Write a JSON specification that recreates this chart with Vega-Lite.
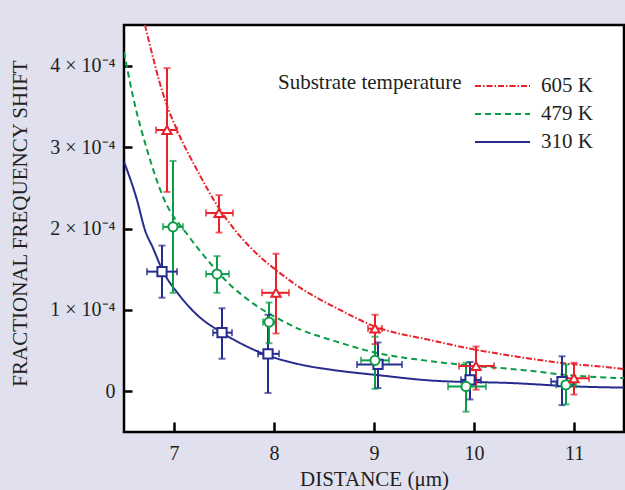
{
  "$schema": "https://vega.github.io/schema/vega-lite/v6.json",
  "width": 500,
  "height": 407,
  "autosize": {"type": "none"},
  "padding": {"left": 124, "top": 25, "right": 1, "bottom": 58},
  "background": "#e1e0ef",
  "config": {
    "view": {"fill": "white", "stroke": "black", "strokeWidth": 2.5},
    "font": "Liberation Serif",
    "axis": {
      "labelFont": "Liberation Serif", "labelFontSize": 20, "labelColor": "#231f20",
      "titleFont": "Liberation Serif", "titleFontSize": 21, "titleFontWeight": "normal", "titleColor": "#231f20",
      "grid": false, "domain": false, "tickColor": "black", "tickWidth": 2.5
    }
  },
  "datasets": {
    "points": [
      {"series": "310 K", "x": 6.88, "y": 1.47, "ylo": 1.15, "yhi": 1.79, "xlo": 6.73, "xhi": 7.03},
      {"series": "310 K", "x": 7.48, "y": 0.72, "ylo": 0.40, "yhi": 1.02, "xlo": 7.39, "xhi": 7.58},
      {"series": "310 K", "x": 7.94, "y": 0.46, "ylo": -0.02, "yhi": 0.94, "xlo": 7.84, "xhi": 8.05},
      {"series": "310 K", "x": 9.04, "y": 0.33, "ylo": 0.04, "yhi": 0.60, "xlo": 8.83, "xhi": 9.28},
      {"series": "310 K", "x": 9.96, "y": 0.14, "ylo": -0.10, "yhi": 0.36, "xlo": 9.87, "xhi": 10.07},
      {"series": "310 K", "x": 10.88, "y": 0.12, "ylo": -0.17, "yhi": 0.43, "xlo": 10.77, "xhi": 10.99},
      {"series": "479 K", "x": 6.99, "y": 2.02, "ylo": 1.21, "yhi": 2.83, "xlo": 6.89, "xhi": 7.09},
      {"series": "479 K", "x": 7.43, "y": 1.44, "ylo": 1.21, "yhi": 1.66, "xlo": 7.32, "xhi": 7.55},
      {"series": "479 K", "x": 7.95, "y": 0.85, "ylo": 0.59, "yhi": 1.09, "xlo": 7.89, "xhi": 8.01},
      {"series": "479 K", "x": 9.01, "y": 0.38, "ylo": 0.03, "yhi": 0.67, "xlo": 8.87, "xhi": 9.15},
      {"series": "479 K", "x": 9.92, "y": 0.06, "ylo": -0.25, "yhi": 0.35, "xlo": 9.74, "xhi": 10.12},
      {"series": "479 K", "x": 10.92, "y": 0.08, "ylo": -0.16, "yhi": 0.33, "xlo": 10.82, "xhi": 11.02},
      {"series": "605 K", "x": 6.93, "y": 3.21, "ylo": 2.45, "yhi": 3.97, "xlo": 6.82, "xhi": 7.03},
      {"series": "605 K", "x": 7.45, "y": 2.19, "ylo": 1.95, "yhi": 2.41, "xlo": 7.32, "xhi": 7.59},
      {"series": "605 K", "x": 8.02, "y": 1.21, "ylo": 0.71, "yhi": 1.69, "xlo": 7.88, "xhi": 8.15},
      {"series": "605 K", "x": 9.01, "y": 0.77, "ylo": 0.58, "yhi": 0.94, "xlo": 8.94, "xhi": 9.08},
      {"series": "605 K", "x": 10.02, "y": 0.31, "ylo": 0.02, "yhi": 0.55, "xlo": 9.85, "xhi": 10.2},
      {"series": "605 K", "x": 11.0, "y": 0.16, "ylo": -0.04, "yhi": 0.35, "xlo": 10.93, "xhi": 11.15}
    ],
    "curves": [
      {"T": "605 K", "x": 6.71, "y": 4.5},
      {"T": "605 K", "x": 6.91, "y": 3.58},
      {"T": "605 K", "x": 7.03, "y": 3.21},
      {"T": "605 K", "x": 7.23, "y": 2.72},
      {"T": "605 K", "x": 7.46, "y": 2.23},
      {"T": "605 K", "x": 7.61, "y": 1.98},
      {"T": "605 K", "x": 7.89, "y": 1.62},
      {"T": "605 K", "x": 8.02, "y": 1.49},
      {"T": "605 K", "x": 8.24, "y": 1.29},
      {"T": "605 K", "x": 8.66, "y": 1.0},
      {"T": "605 K", "x": 9.0, "y": 0.8},
      {"T": "605 K", "x": 9.56, "y": 0.63},
      {"T": "605 K", "x": 10.02, "y": 0.51},
      {"T": "605 K", "x": 10.41, "y": 0.43},
      {"T": "605 K", "x": 10.93, "y": 0.34},
      {"T": "605 K", "x": 11.31, "y": 0.3},
      {"T": "605 K", "x": 11.51, "y": 0.27},
      {"T": "479 K", "x": 6.5, "y": 4.17},
      {"T": "479 K", "x": 6.59, "y": 3.62},
      {"T": "479 K", "x": 6.73, "y": 2.97},
      {"T": "479 K", "x": 6.89, "y": 2.39},
      {"T": "479 K", "x": 7.15, "y": 1.9},
      {"T": "479 K", "x": 7.33, "y": 1.62},
      {"T": "479 K", "x": 7.56, "y": 1.31},
      {"T": "479 K", "x": 7.79, "y": 1.08},
      {"T": "479 K", "x": 8.03, "y": 0.9},
      {"T": "479 K", "x": 8.26, "y": 0.76},
      {"T": "479 K", "x": 8.6, "y": 0.62},
      {"T": "479 K", "x": 9.03, "y": 0.47},
      {"T": "479 K", "x": 9.5, "y": 0.38},
      {"T": "479 K", "x": 9.93, "y": 0.32},
      {"T": "479 K", "x": 10.5, "y": 0.26},
      {"T": "479 K", "x": 10.93, "y": 0.2},
      {"T": "479 K", "x": 11.51, "y": 0.16},
      {"T": "310 K", "x": 6.5, "y": 2.82},
      {"T": "310 K", "x": 6.63, "y": 2.35},
      {"T": "310 K", "x": 6.71, "y": 1.98},
      {"T": "310 K", "x": 6.79, "y": 1.76},
      {"T": "310 K", "x": 6.88, "y": 1.5},
      {"T": "310 K", "x": 7.06, "y": 1.17},
      {"T": "310 K", "x": 7.23, "y": 0.94},
      {"T": "310 K", "x": 7.48, "y": 0.72},
      {"T": "310 K", "x": 7.73, "y": 0.55},
      {"T": "310 K", "x": 7.94, "y": 0.44},
      {"T": "310 K", "x": 8.26, "y": 0.33},
      {"T": "310 K", "x": 8.6, "y": 0.26},
      {"T": "310 K", "x": 9.03, "y": 0.2},
      {"T": "310 K", "x": 9.6, "y": 0.13},
      {"T": "310 K", "x": 10.4, "y": 0.1},
      {"T": "310 K", "x": 11.0, "y": 0.06},
      {"T": "310 K", "x": 11.51, "y": 0.045}
    ]
  },
  "layer": [
    {
      "data": {"name": "curves"},
      "mark": {"type": "line", "interpolate": "monotone", "clip": true, "strokeWidth": 2},
      "encoding": {
        "x": {
          "field": "x", "type": "quantitative",
          "scale": {"domain": [6.5, 11.5], "nice": false, "zero": false},
          "axis": {"values": [7, 8, 9, 10, 11], "format": "d", "title": "DISTANCE (μm)", "tickSize": -10, "labelPadding": 21, "titleY": 53, "titleBaseline": "alphabetic"}
        },
        "y": {
          "field": "y", "type": "quantitative",
          "scale": {"domain": [-0.5, 4.5], "nice": false, "zero": false},
          "axis": {
            "values": [0, 1, 2, 3, 4],
            "labelExpr": "datum.value == 0 ? '0' : datum.value + ' × 10⁻⁴'",
            "title": "FRACTIONAL FREQUENCY SHIFT", "tickSize": -8, "labelPadding": 17,
            "titleX": -104, "titleY": 198, "titleBaseline": "middle"
          }
        },
        "color": {
          "field": "T", "type": "nominal",
          "scale": {"domain": ["605 K", "479 K", "310 K"], "range": ["#e8212b", "#0c9c48", "#262b8d"]},
          "legend": {
            "title": "Substrate temperature", "orient": "none", "legendX": 154, "legendY": 50,
            "titleOrient": "left", "titleAnchor": "start", "titlePadding": 29.5, "titleLimit": 400,
            "titleFontSize": 21, "titleFontWeight": "normal", "titleFont": "Liberation Serif", "titleColor": "#231f20",
            "labelFont": "Liberation Serif", "labelFontSize": 21, "labelColor": "#231f20", "labelOffset": 27.5,
            "symbolType": "M-2.75,0H2.75", "symbolSize": 400, "symbolStrokeWidth": 2, "rowPadding": 7, "padding": 0,
            "encode": {"title": {"update": {"angle": {"value": 0}, "dy": {"value": 8}, "baseline": {"value": "middle"}}}}
          }
        },
        "strokeDash": {
          "field": "T", "type": "nominal",
          "scale": {"domain": ["605 K", "479 K", "310 K"], "range": [[6, 2, 1.5, 2], [6, 4], [1, 0]]},
          "legend": {"title": "Substrate temperature"}
        }
      }
    },
    {
      "data": {"name": "points"},
      "mark": {"type": "rule", "strokeWidth": 2},
      "encoding": {
        "x": {"field": "x", "type": "quantitative"},
        "y": {"field": "ylo", "type": "quantitative"},
        "y2": {"field": "yhi"},
        "stroke": {"field": "series", "type": "nominal", "scale": {"domain": ["310 K", "479 K", "605 K"], "range": ["#262b8d", "#0c9c48", "#e8212b"]}, "legend": null}
      }
    },
    {
      "data": {"name": "points"},
      "mark": {"type": "rule", "strokeWidth": 2},
      "encoding": {
        "x": {"field": "xlo", "type": "quantitative"},
        "x2": {"field": "xhi"},
        "y": {"field": "y", "type": "quantitative"},
        "stroke": {"field": "series", "type": "nominal", "legend": null}
      }
    },
    {
      "data": {"name": "points"},
      "mark": {"type": "tick", "orient": "horizontal", "size": 7, "thickness": 2},
      "encoding": {
        "x": {"field": "x", "type": "quantitative"},
        "y": {"field": "ylo", "type": "quantitative"},
        "fill": {"field": "series", "type": "nominal", "scale": {"domain": ["310 K", "479 K", "605 K", "x"], "range": ["#262b8d", "#0c9c48", "#e8212b", "#000000"]}, "legend": null}
      }
    },
    {
      "data": {"name": "points"},
      "mark": {"type": "tick", "orient": "horizontal", "size": 7, "thickness": 2},
      "encoding": {
        "x": {"field": "x", "type": "quantitative"},
        "y": {"field": "yhi", "type": "quantitative"},
        "fill": {"field": "series", "type": "nominal", "legend": null}
      }
    },
    {
      "data": {"name": "points"},
      "mark": {"type": "tick", "orient": "vertical", "size": 7, "thickness": 2},
      "encoding": {
        "x": {"field": "xlo", "type": "quantitative"},
        "y": {"field": "y", "type": "quantitative"},
        "fill": {"field": "series", "type": "nominal", "legend": null}
      }
    },
    {
      "data": {"name": "points"},
      "mark": {"type": "tick", "orient": "vertical", "size": 7, "thickness": 2},
      "encoding": {
        "x": {"field": "xhi", "type": "quantitative"},
        "y": {"field": "y", "type": "quantitative"},
        "fill": {"field": "series", "type": "nominal", "legend": null}
      }
    },
    {
      "data": {"name": "points"},
      "mark": {"type": "point", "filled": false, "fill": "white", "fillOpacity": 1, "opacity": 1, "strokeWidth": 2, "size": 85},
      "encoding": {
        "x": {"field": "x", "type": "quantitative"},
        "y": {"field": "y", "type": "quantitative"},
        "stroke": {"field": "series", "type": "nominal", "legend": null},
        "shape": {"field": "series", "type": "nominal", "scale": {"domain": ["310 K", "479 K", "605 K", "y"], "range": ["square", "circle", "triangle-up", "diamond"]}, "legend": null}
      }
    }
  ]
}
